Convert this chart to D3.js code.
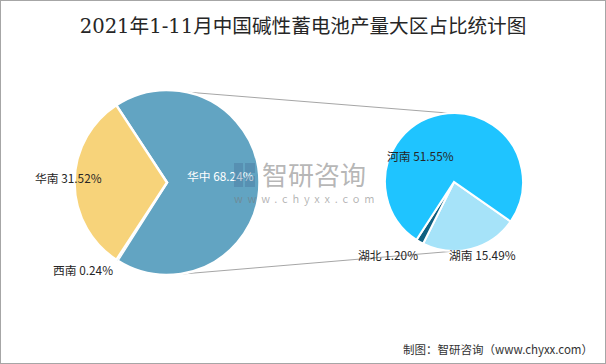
<!DOCTYPE html>
<html>
<head>
<meta charset="utf-8">
<script src="https://cdn.jsdelivr.net/npm/d3@7"></script>
<style>
  body { margin: 0; background: #fff; }
  svg { display: block; }
</style>
</head>
<body>
<svg width="606" height="364"></svg>
<script>
// 主饼图：大区
const mainNames = ['华中', '西南', '华南'];
const mainValues = [68.24, 0.24, 31.52];
const mainColors = ['#62A4C2', '#62A4C2', '#F7D37A'];

// 子饼图：华中拆分
const subNames = ['湖南', '湖北', '河南'];
const subValues = [15.49, 1.20, 51.55];
const subColors = ['#A6E3F9', '#0E5F80', '#1FC4FF'];

const titleText = '2021年1-11月中国碱性蓄电池产量大区占比统计图';
const sourceText = '制图：智研咨询（www.chyxx.com）';

const svg = d3.select('svg');
const font = '"Noto Sans CJK SC", "Noto Sans", sans-serif';
const deg = Math.PI / 180;

// 外框
svg.append('rect').attr('x', 0.5).attr('y', 0.5).attr('width', 605).attr('height', 363)
   .attr('fill', '#fff').attr('stroke', '#A6A6A6');

svg.append('text').text(titleText)
   .attr('x', 303).attr('y', 33).attr('text-anchor', 'middle')
   .style('font-family', '"DejaVu Serif", "Noto Sans CJK SC", serif')
   .style('font-size', '19.6px').style('fill', '#262626');

svg.append('text').text(sourceText)
   .attr('x', 593).attr('y', 354).attr('text-anchor', 'end')
   .style('font-family', font).style('font-size', '11.5px').style('fill', '#333');

const L = {cx: 167, cy: 182.5, r: 92.5};
const R = {cx: 454, cy: 182, r: 69};

// 连接线
const pt = (c, a) => [c.cx + c.r * Math.sin(a * deg), c.cy - c.r * Math.cos(a * deg)];
const conn = svg.append('g').attr('stroke', '#A6A6A6').attr('stroke-width', 1);
[[pt(L, 12), pt(R, -4)], [pt(L, 174), pt(R, 178)]].forEach(([a, b]) => {
  conn.append('line').attr('x1', a[0]).attr('y1', a[1]).attr('x2', b[0]).attr('y2', b[1]);
});

// 主饼图
const mainPie = d3.pie().sort(null)
  .startAngle(-33.3 * deg).endAngle(326.7 * deg);
const mainArc = d3.arc().innerRadius(0).outerRadius(L.r);
const gL = svg.append('g').attr('transform', `translate(${L.cx},${L.cy})`);
gL.selectAll('path').data(mainPie(mainValues)).join('path')
  .attr('d', mainArc)
  .attr('fill', (d, i) => mainColors[i])
  .attr('stroke', '#fff').attr('stroke-width', (d, i) => i === 1 ? 1 : 2.5);

// 子饼图
const subPie = d3.pie().sort(null)
  .startAngle(124.9 * deg).endAngle(484.9 * deg);
const subArc = d3.arc().innerRadius(0).outerRadius(R.r);
const gR = svg.append('g').attr('transform', `translate(${R.cx},${R.cy})`);
gR.selectAll('path').data(subPie(subValues)).join('path')
  .attr('d', subArc)
  .attr('fill', (d, i) => subColors[i])
  .attr('stroke', '#fff').attr('stroke-width', 2);

// 水印
const wm = svg.append('g').style('pointer-events', 'none');
const logoFill = 'rgba(70,110,150,0.35)';
wm.append('rect').attr('x', 234).attr('y', 163).attr('width', 9).attr('height', 24).attr('fill', logoFill);
wm.append('rect').attr('x', 245).attr('y', 163).attr('width', 10).attr('height', 10).attr('fill', logoFill);
wm.append('rect').attr('x', 245).attr('y', 176).attr('width', 10).attr('height', 11).attr('fill', logoFill);
wm.append('text').text('智研咨询').attr('x', 262).attr('y', 185)
  .style('font-family', font).style('font-size', '26px').style('fill', 'rgba(120,120,120,0.55)');
wm.append('text').text('www.chyxx.com').attr('x', 234).attr('y', 203)
  .style('font-family', font).style('font-size', '11px').style('letter-spacing', '4.8px')
  .style('fill', 'rgba(120,120,120,0.55)');

// 标签
const mainLabelPos = [[187, 181, '#fff'], [53, 275, '#262626'], [35, 183, '#262626']];
gL.selectAll(null).data(mainNames).join('text')
  .attr('x', (d, i) => mainLabelPos[i][0] - L.cx)
  .attr('y', (d, i) => mainLabelPos[i][1] - L.cy)
  .style('fill', (d, i) => mainLabelPos[i][2])
  .style('font-family', font).style('font-size', '11.8px')
  .text((d, i) => `${d} ${mainValues[i].toFixed(2)}%`);

const subLabelPos = [[449, 260], [358, 260], [387, 161]];
gR.selectAll(null).data(subNames).join('text')
  .attr('x', (d, i) => subLabelPos[i][0] - R.cx)
  .attr('y', (d, i) => subLabelPos[i][1] - R.cy)
  .style('fill', '#262626')
  .style('font-family', font).style('font-size', '11.8px')
  .text((d, i) => `${d} ${subValues[i].toFixed(2)}%`);
</script>
</body>
</html>
